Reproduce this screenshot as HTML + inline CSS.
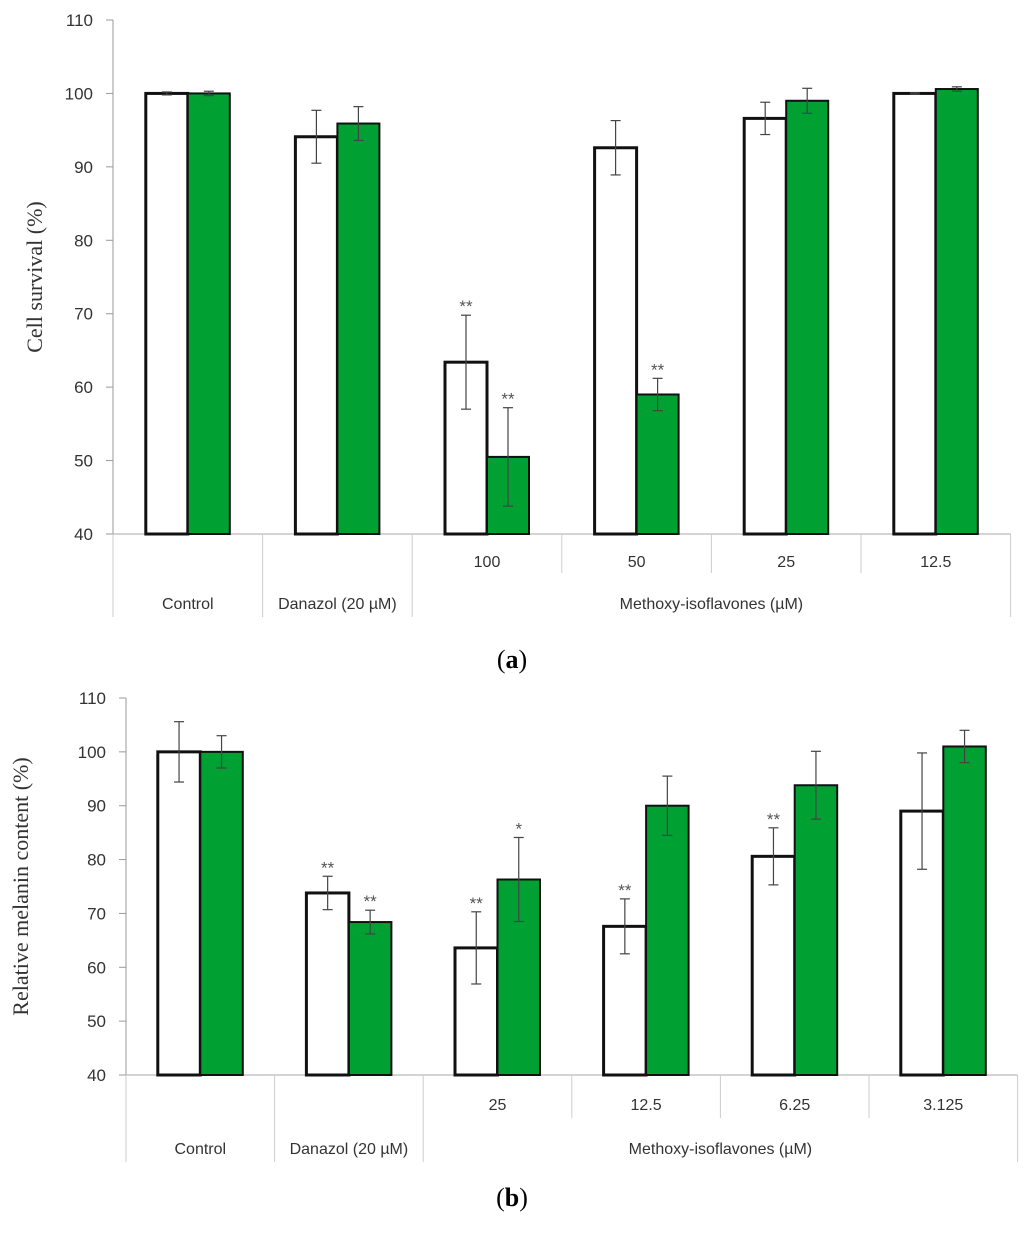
<!DOCTYPE html>
<html><head><meta charset="utf-8"><style>
body{margin:0;background:#fff;width:1024px;height:1230px;overflow:hidden}
svg text{font-family:"Liberation Sans",sans-serif}
</style></head><body>
<svg id="fig" width="1024" height="1230" xmlns="http://www.w3.org/2000/svg"></svg>
<script>
const NS="http://www.w3.org/2000/svg";
const groupsA=["Control","Danazol (20 µM)","100","50","25","12.5"];
const whiteA=[100,94.1,63.4,92.6,96.6,100];
const whiteErrA=[0.2,3.6,6.4,3.7,2.2,0.1];
const greenA=[100,95.9,50.5,59,99,100.6];
const greenErrA=[0.3,2.3,6.7,2.2,1.7,0.3];
const whiteStarA=["","","**","","",""];
const greenStarA=["","","**","**","",""];
const groupsB=["Control","Danazol (20 µM)","25","12.5","6.25","3.125"];
const whiteB=[100,73.8,63.6,67.6,80.6,89];
const whiteErrB=[5.6,3.1,6.7,5.1,5.3,10.8];
const greenB=[100,68.4,76.3,90,93.8,101];
const greenErrB=[3,2.2,7.8,5.5,6.3,3];
const whiteStarB=["","**","**","**","**",""];
const greenStarB=["","**","*","","",""];
const yTicks=[40,50,60,70,80,90,100,110];
const svg=document.getElementById('fig');
function el(tag,attrs,parent){const e=document.createElementNS(NS,tag);for(const k in attrs)e.setAttribute(k,attrs[k]);(parent||svg).appendChild(e);return e;}
function chart(cfg){
  const g=el('g',{});
  
  
  const y=v=>cfg.y0-(v-40)*(cfg.y0-cfg.y1)/70;
  const gw=cfg.gw, n=cfg.groups.length, right=cfg.x0+gw*n;
  // y axis
  const ax=el('line',{x1:cfg.x0,y1:y(110),x2:cfg.x0,y2:cfg.y0,stroke:'#999','stroke-width':1},g);
  
  yTicks.forEach(t=>{
    el('line',{x1:cfg.x0-7,y1:y(t),x2:cfg.x0,y2:y(t),stroke:'#999'},g);
    const tx=el('text',{x:cfg.x0-20,y:y(t)+6,'text-anchor':'end','font-size':17,fill:'#333'},g);
    tx.textContent=t;
    
  });
  // y title
  const yt=el('text',{x:0,y:0,'text-anchor':'middle','font-size':22,fill:'#333',transform:`translate(${cfg.ytx},${(y(40)+y(110))/2}) rotate(-90)`,style:'font-family:"Liberation Serif",serif'},g);
  yt.textContent=cfg.ytitle;
  
  // category axis
  el('line',{x1:cfg.x0,y1:cfg.y0,x2:right,y2:cfg.y0,stroke:'#aaa'},g);
  for(let i=0;i<=n;i++){
    const x=cfg.x0+gw*i;
    const bottom=(i<=2||i==n)?cfg.rowBottom:cfg.row1Bottom;
    el('line',{x1:x,y1:cfg.y0,x2:x,y2:bottom,stroke:'#ccc'},g);
  }
  for(let i=0;i<n;i++){
    const cx=cfg.x0+gw*(i+0.5);
    const t=el('text',{x:cx,y:i<2?cfg.row2y:cfg.row1y,'text-anchor':'middle','font-size':16,fill:'#333'},g);
    t.textContent=cfg.groups[i];
    
  }
  const mt=el('text',{x:cfg.x0+gw*4,y:cfg.row2y,'text-anchor':'middle','font-size':16,fill:'#333'},g);
  mt.textContent='Methoxy-isoflavones (µM)';
  
  const series=[[cfg.white,cfg.whiteErr,cfg.whiteStar,'#fff',3,-1],[cfg.green,cfg.greenErr,cfg.greenStar,'#00a033',2,0]];
  series.forEach(s=>{
    for(let i=0;i<n;i++){
      const cx=cfg.x0+gw*(i+0.5);
      const bx=cx+s[5]*cfg.bw;
      const r=el('rect',{x:bx,y:y(s[0][i]),width:cfg.bw,height:y(40)-y(s[0][i]),fill:s[3],stroke:'#111','stroke-width':s[4]},g);
      
      
      const ex=bx+cfg.bw/2, hi=y(s[0][i]+s[1][i]), lo=y(s[0][i]-s[1][i]);
      el('line',{x1:ex,y1:hi,x2:ex,y2:lo,stroke:'#444','stroke-width':1.2},g);
      el('line',{x1:ex-5,y1:hi,x2:ex+5,y2:hi,stroke:'#444','stroke-width':1.2},g);
      el('line',{x1:ex-5,y1:lo,x2:ex+5,y2:lo,stroke:'#444','stroke-width':1.2},g);
      if(s[2][i]){
        const st=el('text',{x:ex,y:hi-3,'text-anchor':'middle','font-size':17,fill:'#555'},g);
        st.textContent=s[2][i];
        
      }
    }
  });
  const cap=el('text',{x:cfg.capx,y:cfg.capy,'text-anchor':'middle','font-size':26,fill:'#000',style:'font-family:"Liberation Serif",serif'},g);
  cap.innerHTML=cfg.cap;
  
}
chart({name:'chart-a',x0:113,gw:149.6,bw:42,y0:534,y1:20,ytx:42,ytitle:'Cell survival (%)',groups:groupsA,
 white:whiteA,whiteErr:whiteErrA,whiteStar:whiteStarA,green:greenA,greenErr:greenErrA,greenStar:greenStarA,
 row1Bottom:573,rowBottom:617,row1y:567,row2y:609,capx:512,capy:668,cap:'(<tspan font-weight="bold">a</tspan>)'});
chart({name:'chart-b',x0:126,gw:148.6,bw:42.5,y0:1075,y1:698,ytx:28,ytitle:'Relative melanin content (%)',groups:groupsB,
 white:whiteB,whiteErr:whiteErrB,whiteStar:whiteStarB,green:greenB,greenErr:greenErrB,greenStar:greenStarB,
 row1Bottom:1118,rowBottom:1162,row1y:1110,row2y:1154,capx:512,capy:1206,cap:'(<tspan font-weight="bold">b</tspan>)'});
</script>
</body></html>
